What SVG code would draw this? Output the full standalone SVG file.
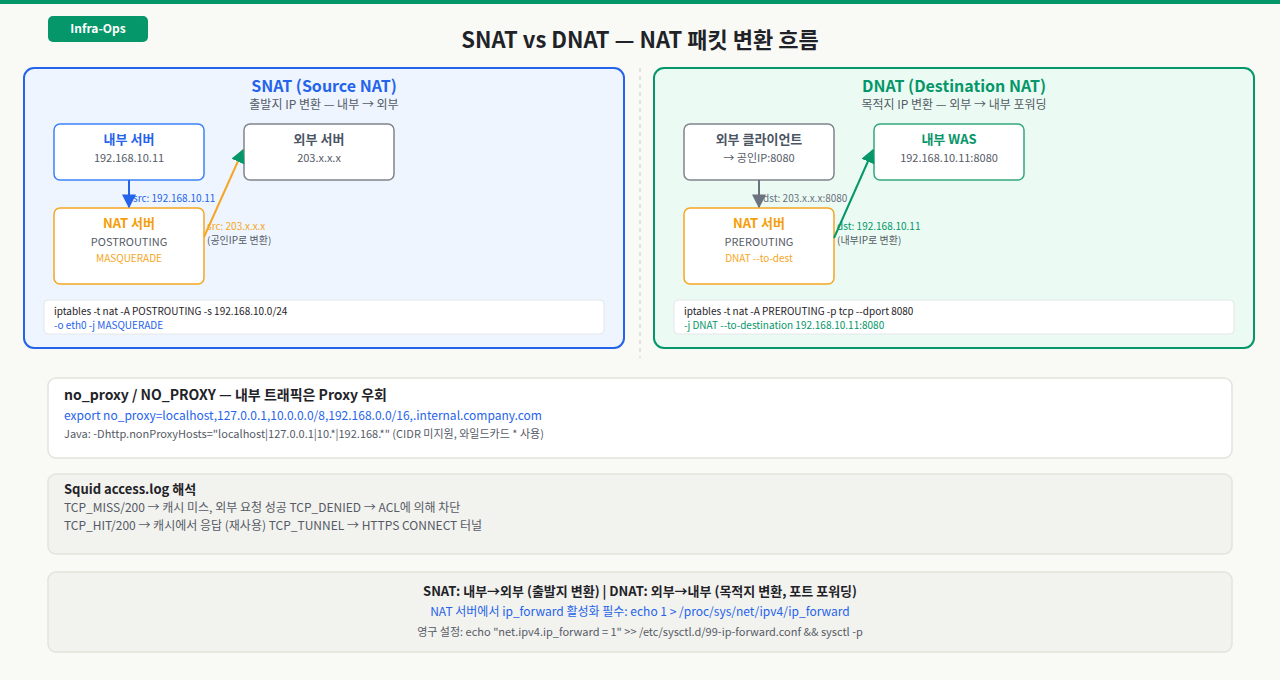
<svg xmlns="http://www.w3.org/2000/svg" width="1280" height="680" viewBox="0 0 1280 680">
<defs>
<style>
text{font-family:"Noto Sans CJK KR","Noto Sans",sans-serif;}
.b{font-weight:700;}
.node{fill:#ffffff;stroke-width:1.5;}
.t13{font-size:13px;font-weight:700;}
.s11{font-size:11px;fill:#555b66;}
.s10{font-size:10px;}
.mid{text-anchor:middle;}
.code{fill:#ffffff;stroke:#e3e6ea;stroke-width:1;}
</style>
<marker id="ahBlue" viewBox="0 0 10 10" refX="9" refY="5" markerWidth="7" markerHeight="7" orient="auto-start-reverse"><path d="M0,0 L10,5 L0,10 z" fill="#2563eb"/></marker>
<marker id="ahGreen" viewBox="0 0 10 10" refX="9" refY="5" markerWidth="7" markerHeight="7" orient="auto-start-reverse"><path d="M0,0 L10,5 L0,10 z" fill="#059669"/></marker>
<marker id="ahGray" viewBox="0 0 10 10" refX="9" refY="5" markerWidth="7" markerHeight="7" orient="auto-start-reverse"><path d="M0,0 L10,5 L0,10 z" fill="#6b7280"/></marker>
</defs>
<rect width="1280" height="680" fill="#f9faf6"/>
<rect width="1280" height="4" fill="#059669"/>
<g id="badge">
<rect x="48" y="16" width="100" height="26" rx="5" fill="#059669"/>
<text x="98" y="33" class="mid b" font-size="12" fill="#ffffff">Infra-Ops</text>
</g>
<text x="640" y="48" class="mid b" font-size="22" fill="#1f2328">SNAT vs DNAT — NAT 패킷 변환 흐름</text>
<line x1="640" y1="68" x2="640" y2="358" stroke="#dcdcd8" stroke-width="1.5" stroke-dasharray="4,4"/>

<g id="snat-panel">
<rect x="24" y="68" width="600" height="280" rx="10" fill="#eef5ff" stroke="#2563eb" stroke-width="2"/>
<text x="324" y="92" class="mid b" font-size="16" fill="#2563eb">SNAT (Source NAT)</text>
<text x="324" y="109" class="mid" font-size="12" fill="#555b66">출발지 IP 변환 — 내부 → 외부</text>
</g>
<g id="snat-internal">
<rect x="54" y="124" width="150" height="56" rx="6" class="node" stroke="#3b82f6"/>
<text x="129" y="144" class="mid t13" fill="#2563eb">내부 서버</text>
<text x="129" y="162" class="mid s11">192.168.10.11</text>
</g>
<g id="snat-external">
<rect x="244" y="124" width="150" height="56" rx="6" class="node" stroke="#80848c"/>
<text x="319" y="144" class="mid t13" fill="#4b5563">외부 서버</text>
<text x="319" y="162" class="mid s11">203.x.x.x</text>
</g>
<g id="snat-nat">
<rect x="54" y="208" width="150" height="76" rx="6" class="node" stroke="#f5a623"/>
<text x="129" y="228" class="mid t13" fill="#f59e0b">NAT 서버</text>
<text x="129" y="246" class="mid s11">POSTROUTING</text>
<text x="129" y="262" class="mid s10" fill="#f5a623">MASQUERADE</text>
</g>
<g id="snat-code">
<rect x="44" y="300" width="560" height="34" rx="4" class="code"/>
<text x="54" y="315" class="s10" fill="#1f2328">iptables -t nat -A POSTROUTING -s 192.168.10.0/24</text>
<text x="54" y="329" class="s10" fill="#2563eb">-o eth0 -j MASQUERADE</text>
</g>

<g id="dnat-panel">
<rect x="654" y="68" width="600" height="280" rx="10" fill="#ebfbf3" stroke="#059669" stroke-width="2"/>
<text x="954" y="92" class="mid b" font-size="16" fill="#059669">DNAT (Destination NAT)</text>
<text x="954" y="109" class="mid" font-size="12" fill="#555b66">목적지 IP 변환 — 외부 → 내부 포워딩</text>
</g>
<g id="dnat-client">
<rect x="684" y="124" width="150" height="56" rx="6" class="node" stroke="#80848c"/>
<text x="759" y="144" class="mid t13" fill="#4b5563">외부 클라이언트</text>
<text x="759" y="162" class="mid s11">→ 공인IP:8080</text>
</g>
<g id="dnat-was">
<rect x="874" y="124" width="150" height="56" rx="6" class="node" stroke="#34a87f"/>
<text x="949" y="144" class="mid t13" fill="#059669">내부 WAS</text>
<text x="949" y="162" class="mid s11">192.168.10.11:8080</text>
</g>
<g id="dnat-nat">
<rect x="684" y="208" width="150" height="76" rx="6" class="node" stroke="#f5a623"/>
<text x="759" y="228" class="mid t13" fill="#f59e0b">NAT 서버</text>
<text x="759" y="246" class="mid s11">PREROUTING</text>
<text x="759" y="262" class="mid s10" fill="#f5a623">DNAT --to-dest</text>
</g>
<g id="dnat-code">
<rect x="674" y="300" width="560" height="34" rx="4" class="code"/>
<text x="684" y="315" class="s10" fill="#1f2328">iptables -t nat -A PREROUTING -p tcp --dport 8080</text>
<text x="684" y="329" class="s10" fill="#059669">-j DNAT --to-destination 192.168.10.11:8080</text>
</g>

<g id="connectors">
<line x1="129" y1="180" x2="129" y2="207" stroke="#2563eb" stroke-width="2" marker-end="url(#ahBlue)"/>
<text x="133" y="202" class="s10" fill="#2563eb">src: 192.168.10.11</text>
<line x1="204" y1="237" x2="243" y2="150" stroke="#f5a623" stroke-width="2" marker-end="url(#ahGreen)"/>
<text x="207" y="230" class="s10" fill="#f5a623">src: 203.x.x.x</text>
<text x="207" y="244" class="s10" fill="#555b66">(공인IP로 변환)</text>
<line x1="759" y1="180" x2="759" y2="207" stroke="#6b7280" stroke-width="2" marker-end="url(#ahGray)"/>
<text x="763" y="202" class="s10" fill="#6b7280">dst: 203.x.x.x:8080</text>
<line x1="834" y1="238" x2="873" y2="150" stroke="#059669" stroke-width="2" marker-end="url(#ahGreen)"/>
<text x="837" y="230" class="s10" fill="#059669">dst: 192.168.10.11</text>
<text x="837" y="244" class="s10" fill="#555b66">(내부IP로 변환)</text>
</g>

<g id="noproxy">
<rect x="48" y="378" width="1184" height="80" rx="8" fill="#ffffff" stroke="#e3e4dc" stroke-width="1.5"/>
<text x="64" y="400" class="b" font-size="14" fill="#1f2328">no_proxy / NO_PROXY — 내부 트래픽은 Proxy 우회</text>
<text x="64" y="420" font-size="12" fill="#2563eb">export no_proxy=localhost,127.0.0.1,10.0.0.0/8,192.168.0.0/16,.internal.company.com</text>
<text x="64" y="438" font-size="11" fill="#555b66">Java: -Dhttp.nonProxyHosts="localhost|127.0.0.1|10.*|192.168.*" (CIDR 미지원, 와일드카드 * 사용)</text>
</g>
<g id="squid">
<rect x="48" y="474" width="1184" height="80" rx="8" fill="#f2f2ee" stroke="#e3e4dc" stroke-width="1.5"/>
<text x="64" y="494" class="b" font-size="13" fill="#1f2328">Squid access.log 해석</text>
<text x="64" y="512" font-size="12" fill="#555b66">TCP_MISS/200 → 캐시 미스, 외부 요청 성공 TCP_DENIED → ACL에 의해 차단</text>
<text x="64" y="530" font-size="12" fill="#555b66">TCP_HIT/200 → 캐시에서 응답 (재사용) TCP_TUNNEL → HTTPS CONNECT 터널</text>
</g>
<g id="summary">
<rect x="48" y="572" width="1184" height="80" rx="8" fill="#f2f2ee" stroke="#e3e4dc" stroke-width="1.5"/>
<text x="640" y="596" class="mid b" font-size="13" fill="#1f2328">SNAT: 내부→외부 (출발지 변환) | DNAT: 외부→내부 (목적지 변환, 포트 포워딩)</text>
<text x="640" y="616" class="mid" font-size="12" fill="#2563eb">NAT 서버에서 ip_forward 활성화 필수: echo 1 &gt; /proc/sys/net/ipv4/ip_forward</text>
<text x="640" y="636" class="mid" font-size="11" fill="#555b66">영구 설정: echo "net.ipv4.ip_forward = 1" &gt;&gt; /etc/sysctl.d/99-ip-forward.conf &amp;&amp; sysctl -p</text>
</g>
</svg>
